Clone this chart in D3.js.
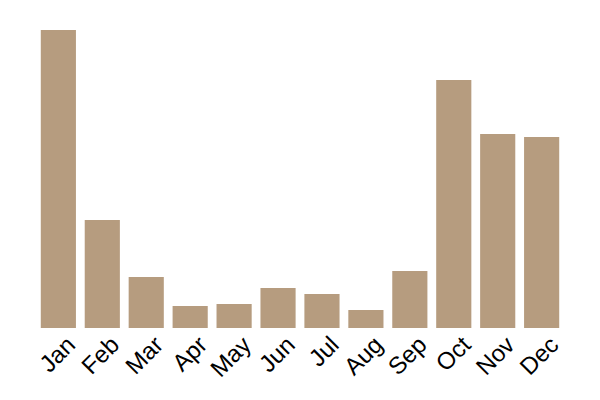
<!DOCTYPE html>
<html>
<head>
<meta charset="utf-8">
<script src="https://cdn.jsdelivr.net/npm/d3@7"></script>
<style>
  body { margin: 0; background: #fff; }
  svg { display: block; }
</style>
</head>
<body>
<svg id="chart" width="600" height="400"></svg>
<script>
const months = ["Jan","Feb","Mar","Apr","May","Jun","Jul","Aug","Sep","Oct","Nov","Dec"];
const values = [298, 108, 51, 22, 24, 40, 34, 18, 57, 248, 194, 191];

const svg = d3.select("#chart");
const x = d3.scaleBand().domain(months).range([32, 568]).padding(0.2);
const y = d3.scaleLinear().domain([0, d3.max(values)]).range([328, 30]);

svg.append("g")
  .selectAll("rect")
  .data(months)
  .join("rect")
  .attr("x", d => x(d))
  .attr("width", x.bandwidth())
  .attr("y", (d, i) => y(values[i]))
  .attr("height", (d, i) => y(0) - y(values[i]))
  .attr("fill", "#b69c7f");

const ax = svg.append("g")
  .attr("transform", "translate(0,328)")
  .call(d3.axisBottom(x).tickSize(0));
ax.select(".domain").remove();
ax.selectAll("text")
  .attr("y", 9)
  .attr("transform", "rotate(-45)")
  .style("text-anchor", "end")
  .style("font-family", "Liberation Sans, Arial, sans-serif")
  .style("font-size", "24px")
  .attr("fill", "#000");
</script>
</body>
</html>
